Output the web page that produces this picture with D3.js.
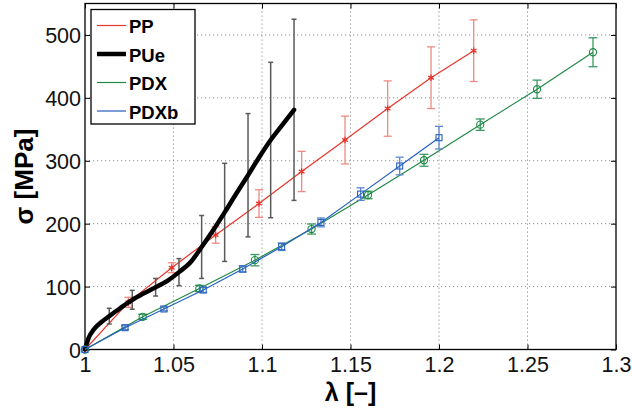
<!DOCTYPE html>
<html>
<head>
<meta charset="utf-8">
<script src="https://cdn.jsdelivr.net/npm/d3@7"></script>
<style>
  html, body { margin: 0; padding: 0; background: #fff; }
  svg { display: block; font-family: "Liberation Sans", Arial, sans-serif; }
</style>
</head>
<body>
<svg id="chart" width="632" height="408"></svg>
<script>
// Stress–stretch data for four materials (λ, σ in MPa, ± error)
const ppLambda   = [1.0, 1.0245, 1.049, 1.0738, 1.0983, 1.1224, 1.1469, 1.171, 1.1955, 1.2196];
const ppStress   = [0, 75, 130, 182, 232, 283, 333, 383, 432, 475];
const ppErr      = [0, 8, 8, 13, 22, 32, 38, 44, 49, 49];

const pueLambda  = [1.0, 1.002, 1.005, 1.009, 1.0137, 1.02, 1.0267, 1.033, 1.0399, 1.047, 1.0531,
                    1.06, 1.0659, 1.0725, 1.0789, 1.0855, 1.0921, 1.0985, 1.1049, 1.1115, 1.1181];
const pueStress  = [0, 18, 32, 43, 53, 66, 79, 89, 99, 110, 123, 140, 163, 190, 218, 248, 277, 306, 333, 357, 381];
const pueBarLambda = [1.0137, 1.0267, 1.0399, 1.0531, 1.0659, 1.0789, 1.0921, 1.1049, 1.1181];
const pueBarStress = [53, 79, 99, 123, 163, 218, 277, 333, 381];
const pueBarErr    = [12.5, 15, 14, 21.5, 50, 78, 98, 123.5, 144];

const pdxLambda  = [1.0, 1.0326, 1.0646, 1.096, 1.128, 1.1599, 1.1915, 1.2233, 1.2554, 1.287];
const pdxStress  = [0, 52, 97, 142, 191.5, 245.6, 300.8, 357.4, 413.7, 472.5];
const pdxErr     = [0, 4, 5, 9, 8, 6, 9.5, 9, 14.5, 23];

const pdxbLambda = [1.0, 1.0226, 1.0446, 1.0668, 1.0891, 1.1111, 1.1333, 1.1557, 1.1778, 1.2];
const pdxbStress = [0, 34.7, 64.4, 94.6, 128, 163.4, 202, 247, 291.7, 336.7];
const pdxbErr    = [0, 3, 3, 4, 5, 6, 7, 10, 14, 18];

const xTicks = [1, 1.05, 1.1, 1.15, 1.2, 1.25, 1.3];
const yTicks = [0, 100, 200, 300, 400, 500];
const legendNames = ["PP", "PUe", "PDX", "PDXb"];

const svg = d3.select("#chart");
const L = 85, R = 616, T = 3.5, B = 349.5;

const x = d3.scaleLinear().domain([1, 1.3]).range([L, R]);
const y = d3.scaleLinear().domain([0, 550]).range([B, T]);

const zip = (xs, ys, es) => xs.map((v, i) => ({ x: v, y: ys[i], e: es ? es[i] : 0 }));

// dotted grid
const grid = svg.append("g");
grid.selectAll(".gx").data(xTicks.slice(1, -1)).join("line")
  .attr("x1", d => x(d)).attr("x2", d => x(d)).attr("y1", T).attr("y2", B)
  .attr("stroke", "#8a8a8a").attr("stroke-width", 1).attr("stroke-dasharray", "1.2,2.8");
grid.selectAll(".gy").data(yTicks.slice(1)).join("line")
  .attr("x1", L).attr("x2", R).attr("y1", d => y(d)).attr("y2", d => y(d))
  .attr("stroke", "#8a8a8a").attr("stroke-width", 1).attr("stroke-dasharray", "1.2,2.8");

// axes with inward ticks on all four sides
const tickLen = 5;
const axB = svg.append("g").attr("transform", `translate(0,${B})`)
  .call(d3.axisBottom(x).tickValues(xTicks).tickSize(-tickLen).tickPadding(7.5)
        .tickFormat(d => d3.format("")(+d.toFixed(2))));
const axT = svg.append("g").attr("transform", `translate(0,${T})`)
  .call(d3.axisTop(x).tickValues(xTicks).tickSize(-tickLen).tickFormat(""));
const axL = svg.append("g").attr("transform", `translate(${L},0)`)
  .call(d3.axisLeft(y).tickValues(yTicks).tickSize(-tickLen).tickPadding(4));
const axR = svg.append("g").attr("transform", `translate(${R},0)`)
  .call(d3.axisRight(y).tickValues(yTicks).tickSize(-tickLen).tickFormat(""));
[axB, axT, axL, axR].forEach(a => {
  a.select(".domain").remove();
  a.selectAll(".tick line").attr("stroke", "#000").attr("stroke-width", 1);
  a.selectAll("text").attr("font-size", 21.5).attr("fill", "#111")
    .attr("font-family", '"Liberation Sans", Arial, sans-serif');
});
axB.selectAll("text").attr("dy", "0.71em");
axL.selectAll("text").attr("dy", "0.36em");

// plotting frame
svg.append("rect").attr("x", L).attr("y", T).attr("width", R - L).attr("height", B - T)
  .attr("fill", "none").attr("stroke", "#000").attr("stroke-width", 1.3);

const line = d3.line().x(d => x(d.x)).y(d => y(d.y));

function errorBars(g, data, color, cap, width) {
  const eb = g.append("g").attr("stroke", color).attr("stroke-width", width || 1.2).attr("fill", "none");
  data.filter(d => d.e > 0).forEach(d => {
    eb.append("line").attr("x1", x(d.x)).attr("x2", x(d.x)).attr("y1", y(d.y - d.e)).attr("y2", y(d.y + d.e));
    eb.append("line").attr("x1", x(d.x) - cap).attr("x2", x(d.x) + cap).attr("y1", y(d.y - d.e)).attr("y2", y(d.y - d.e));
    eb.append("line").attr("x1", x(d.x) - cap).attr("x2", x(d.x) + cap).attr("y1", y(d.y + d.e)).attr("y2", y(d.y + d.e));
  });
  return eb;
}

const plot = svg.append("g");

// PP
const ppColor = "#e8362c";
const pp = zip(ppLambda, ppStress, ppErr);
errorBars(plot, pp, "#ef8a82", 4, 1.3);
plot.append("path").datum(pp).attr("d", line).attr("fill", "none").attr("stroke", ppColor).attr("stroke-width", 1.2);
const star = d3.symbol().type(d3.symbolAsterisk || d3.symbolCross).size(30);
plot.append("g").selectAll("path").data(pp).join("path")
  .attr("transform", d => `translate(${x(d.x)},${y(d.y)})`)
  .attr("d", star).attr("fill", "none").attr("stroke", ppColor).attr("stroke-width", 1.3);

// PUe
const pueBars = zip(pueBarLambda, pueBarStress, pueBarErr);
errorBars(plot, pueBars, "#5a5a5a", 2.5, 1.5);
plot.append("path").datum(zip(pueLambda, pueStress))
  .attr("d", d3.line().x(d => x(d.x)).y(d => y(d.y)).curve(d3.curveMonotoneX))
  .attr("fill", "none").attr("stroke", "#000").attr("stroke-width", 4.5)
  .attr("stroke-linejoin", "round").attr("stroke-linecap", "round");

// PDX
const pdxColor = "#1f8a46";
const pdx = zip(pdxLambda, pdxStress, pdxErr);
errorBars(plot, pdx, "#3a9a62", 4.5, 1.3);
plot.append("path").datum(pdx).attr("d", line).attr("fill", "none").attr("stroke", pdxColor).attr("stroke-width", 1.2);
plot.append("g").selectAll("circle").data(pdx).join("circle")
  .attr("cx", d => x(d.x)).attr("cy", d => y(d.y)).attr("r", 3.6)
  .attr("fill", "none").attr("stroke", pdxColor).attr("stroke-width", 1.1);

// PDXb
const pdxbColor = "#2660c0";
const pdxb = zip(pdxbLambda, pdxbStress, pdxbErr);
errorBars(plot, pdxb, "#5a86cc", 4, 1.3);
plot.append("path").datum(pdxb).attr("d", line).attr("fill", "none").attr("stroke", pdxbColor).attr("stroke-width", 1.2);
plot.append("g").selectAll("rect").data(pdxb).join("rect")
  .attr("x", d => x(d.x) - 3).attr("y", d => y(d.y) - 3).attr("width", 6).attr("height", 6)
  .attr("fill", "none").attr("stroke", pdxbColor).attr("stroke-width", 1.1);

// legend
const legend = svg.append("g");
legend.append("rect").attr("x", 91).attr("y", 9.5).attr("width", 104).attr("height", 114.5)
  .attr("fill", "#fff").attr("stroke", "#000").attr("stroke-width", 1.3);
const legendStyles = [
  { color: ppColor, w: 1.2 },
  { color: "#000", w: 4.5 },
  { color: pdxColor, w: 1.2 },
  { color: "#5b84cc", w: 1.6 }
];
legendNames.forEach((name, i) => {
  const by = 33 + i * 28.5;
  legend.append("line").attr("x1", 97).attr("x2", 126).attr("y1", by - 7.5).attr("y2", by - 7.5)
    .attr("stroke", legendStyles[i].color).attr("stroke-width", legendStyles[i].w);
  legend.append("text").attr("x", 129).attr("y", by).text(name)
    .attr("font-size", 18.5).attr("font-weight", "bold").attr("fill", "#000");
});

// axis titles
svg.append("text").attr("x", (L + R) / 2).attr("y", 401).attr("text-anchor", "middle")
  .attr("font-size", 25).attr("font-weight", "bold").attr("fill", "#000").text("λ [–]");
svg.append("text").attr("transform", `translate(33,${(T + B) / 2}) rotate(-90)`)
  .attr("text-anchor", "middle").attr("font-size", 26).attr("font-weight", "bold")
  .attr("fill", "#000").text("σ [MPa]");
</script>
</body>
</html>
